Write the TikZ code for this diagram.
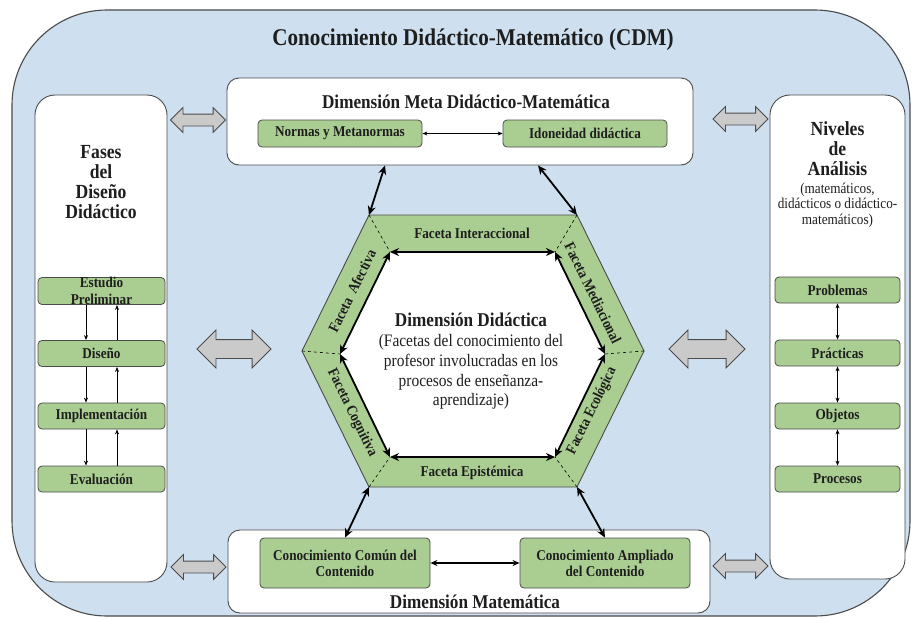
\documentclass[tikz,border=0pt]{standalone}
\usepackage{fontspec}
\setmainfont{Liberation Serif}[FakeStretch=0.88]
\usetikzlibrary{shapes.arrows, arrows.meta, positioning}

\definecolor{cdmblue}{RGB}{206,223,239}
\definecolor{facetgreen}{RGB}{170,206,145}
\definecolor{edgegray}{RGB}{75,75,75}
\definecolor{blockgray}{RGB}{202,202,202}
\definecolor{inkblack}{RGB}{30,30,30}

\tikzstyle{frame} = [rounded corners=95pt, draw=edgegray, fill=cdmblue, line width=1.1pt]
\tikzstyle{panel} = [rectangle, rounded corners=20pt, draw=edgegray, fill=white, line width=0.9pt]
\tikzstyle{box} = [rectangle, rounded corners=12pt, draw=edgegray, fill=white, line width=0.9pt]
\tikzstyle{item} = [rectangle, rounded corners=4pt, draw=edgegray, fill=facetgreen, line width=0.8pt, text centered, inner sep=1pt, text=inkblack, font=\bfseries\fontsize{15}{16}\selectfont]
\tikzstyle{itemtext} = [align=center, inner sep=0pt, text=inkblack, font=\bfseries\fontsize{15}{17}\selectfont]
\tikzstyle{title} = [text=inkblack, font=\bfseries\fontsize{19.5}{22}\selectfont]
\tikzstyle{paneltitle} = [align=center, text=inkblack, font=\bfseries\fontsize{20}{20}\selectfont]
\tikzstyle{facetlabel} = [text=inkblack, inner sep=0pt, font=\bfseries\fontsize{15}{16}\selectfont]
\tikzstyle{twoway} = [double arrow, draw=edgegray, fill=blockgray, line width=0.8pt, inner xsep=0pt, minimum width=1pt]
\tikzstyle{link} = [line width=1.8pt, black, {Stealth[length=9pt,width=8pt]}-{Stealth[length=9pt,width=8pt]}]
\tikzstyle{small_link} = [line width=1.2pt, black, {Stealth[length=7pt,width=6pt]}-{Stealth[length=7pt,width=6pt]}]
\tikzstyle{phase_step} = [line width=0.8pt, black, -{Stealth[length=5pt,width=4pt]}]
\tikzstyle{level_step} = [line width=0.8pt, black, {Stealth[length=5pt,width=4pt]}-{Stealth[length=5pt,width=4pt]}]
\tikzstyle{facet_split} = [dashed, line width=0.6pt, black]

\begin{document}
\begin{tikzpicture}[x=1pt, y=1pt]

    \useasboundingbox (0,0) rectangle (914,-619);

    % outer frame
    \draw [frame] (12,-10) rectangle (910,-616);
    \node (cdm) [text=inkblack, font=\bfseries\fontsize{24}{26}\selectfont] at (473,-40) {Conocimiento Didáctico-Matemático (CDM)};

    % side panels
    \node (fases) [panel, minimum width=132pt, minimum height=487pt] at (101,-338.5) {};
    \node (niveles) [panel, minimum width=135pt, minimum height=484pt] at (837.5,-337) {};

    \node (fasestitle) [paneltitle] at (101,-182) {Fases\\del\\Diseño\\Didáctico};
    \node (nivelestitle) [paneltitle] at (837.5,-149) {Niveles\\de\\Análisis};
    \node (nivelessub) [align=center, text=inkblack, font=\fontsize{15}{15.5}\selectfont] at (837.5,-205) {(matemáticos,\\didácticos o didáctico-\\matemáticos)};

    \node (estudio) [item, minimum width=127pt, minimum height=27pt] at (101.5,-291) {};
    \node (estudiotext) [itemtext] at (estudio) {Estudio\\Preliminar};
    \node (diseno) [item, minimum width=127pt, minimum height=26pt] at (101.5,-353.5) {Diseño};
    \node (implementa) [item, minimum width=127pt, minimum height=26pt] at (101.5,-416) {Implementación};
    \node (evalua) [item, minimum width=127pt, minimum height=26pt] at (101.5,-479) {Evaluación};

    \draw [phase_step] ([xshift=-15.5pt]estudio.south) -- ([xshift=-15.5pt]diseno.north);
    \draw [phase_step] ([xshift=15.5pt]diseno.north) -- ([xshift=15.5pt]estudio.south);
    \draw [phase_step] ([xshift=-15.5pt]diseno.south) -- ([xshift=-15.5pt]implementa.north);
    \draw [phase_step] ([xshift=15.5pt]implementa.north) -- ([xshift=15.5pt]diseno.south);
    \draw [phase_step] ([xshift=-15.5pt]implementa.south) -- ([xshift=-15.5pt]evalua.north);
    \draw [phase_step] ([xshift=15.5pt]evalua.north) -- ([xshift=15.5pt]implementa.south);

    \node (problemas) [item, minimum width=125pt, minimum height=26pt] at (837.5,-290) {Problemas};
    \node (practicas) [item, minimum width=125pt, minimum height=26pt] at (837.5,-353) {Prácticas};
    \node (objetos) [item, minimum width=125pt, minimum height=26pt] at (837.5,-416) {Objetos};
    \node (procesos) [item, minimum width=125pt, minimum height=26pt] at (837.5,-479) {Procesos};

    \draw [level_step] (problemas) -- (practicas);
    \draw [level_step] (practicas) -- (objetos);
    \draw [level_step] (objetos) -- (procesos);

    % meta didactic-mathematical dimension
    \node (meta) [box, minimum width=466pt, minimum height=87pt] at (460,-121.5) {};
    \node (metatitle) [title] at (466,-102) {Dimensión Meta Didáctico-Matemática};
    \node (normas) [item, minimum width=164pt, minimum height=27pt] at (340,-133.5) {Normas y Metanormas};
    \node (idoneidad) [item, minimum width=164pt, minimum height=27pt] at (585,-133.5) {Idoneidad didáctica};
    \draw [level_step] (normas) -- (idoneidad);

    % mathematical dimension
    \node (mate) [box, minimum width=482pt, minimum height=83pt] at (469,-571.5) {};
    \node (comun) [item, align=center, minimum width=170pt, minimum height=50pt] at (345,-563) {Conocimiento Común del\\Contenido};
    \node (ampliado) [item, align=center, minimum width=170pt, minimum height=50pt] at (605,-563) {Conocimiento Ampliado\\del Contenido};
    \node (matetitle) [title] at (475,-602) {Dimensión Matemática};
    \draw [small_link] (comun) -- (ampliado);

    % didactic dimension: hexagon of facets
    \coordinate (hL) at (302,-351);
    \coordinate (hTL) at (369,-215);
    \coordinate (hTR) at (577,-215);
    \coordinate (hR) at (644,-351);
    \coordinate (hBR) at (577,-487);
    \coordinate (hBL) at (369,-487);

    \coordinate (iL) at (340,-354);
    \coordinate (iTL) at (390,-252);
    \coordinate (iTR) at (555,-252);
    \coordinate (iR) at (605,-354);
    \coordinate (iBR) at (555,-457);
    \coordinate (iBL) at (390,-457);

    \draw [fill=facetgreen, draw=edgegray, line width=0.9pt] (hL) -- (hTL) -- (hTR) -- (hR) -- (hBR) -- (hBL) -- cycle;
    \fill [white] (iL) -- (iTL) -- (iTR) -- (iR) -- (iBR) -- (iBL) -- cycle;

    \draw [facet_split] (hL) -- (iL);
    \draw [facet_split] (hTL) -- (iTL);
    \draw [facet_split] (hTR) -- (iTR);
    \draw [facet_split] (hR) -- (iR);
    \draw [facet_split] (hBR) -- (iBR);
    \draw [facet_split] (hBL) -- (iBL);

    \draw [link] (iTL) -- (iTR);
    \draw [link] (iTR) -- (iR);
    \draw [link] (iR) -- (iBR);
    \draw [link] (iBR) -- (iBL);
    \draw [link] (iBL) -- (iL);
    \draw [link] (iL) -- (iTL);

    \node (interaccional) [facetlabel] at (472,-233) {Faceta Interaccional};
    \node (epistemica) [facetlabel] at (472,-473) {Faceta Epistémica};
    \node (afectiva) [facetlabel, rotate=63.8] at (352,-291) {Faceta\, Afectiva};
    \node (mediacional) [facetlabel, rotate=-63.8] at (593,-293) {Faceta Mediacional};
    \node (cognitiva) [facetlabel, rotate=-63.8] at (352,-413) {Faceta Cognitiva};
    \node (ecologica) [facetlabel, rotate=63.8] at (592,-411) {Faceta Ecológica};

    \node (didactica) [title] at (471,-320) {Dimensión Didáctica};
    \node (facetas) [align=center, text=inkblack, font=\fontsize{17.5}{19.8}\selectfont] at (471,-372) {(Facetas del conocimiento del\\profesor involucradas en los\\procesos de enseñanza-\\aprendizaje)};

    \draw [link] ([xshift=-75pt]meta.south) -- (hTL);
    \draw [link] ([xshift=78pt]meta.south) -- (hTR);
    \draw [link] (hBL) -- (comun.north);
    \draw [link] (hBR) -- (ampliado.north);

    % block arrows between the dimensions and the side panels
    \node (gTL) [twoway, inner ysep=5.5pt, double arrow head extend=6.5pt, minimum height=55pt] at (198,-120) {};
    \node (gTR) [twoway, inner ysep=5.5pt, double arrow head extend=6.5pt, minimum height=55pt] at (740.5,-119) {};
    \node (gML) [twoway, inner ysep=9pt, double arrow head extend=9.5pt, minimum height=74pt] at (234,-349) {};
    \node (gMR) [twoway, inner ysep=9pt, double arrow head extend=9.5pt, minimum height=76pt] at (707,-349) {};
    \node (gBL) [twoway, inner ysep=5.5pt, double arrow head extend=6.5pt, minimum height=55pt] at (198.5,-567) {};
    \node (gBR) [twoway, inner ysep=5.5pt, double arrow head extend=6.5pt, minimum height=55pt] at (740.5,-566) {};

\end{tikzpicture}
\end{document}
